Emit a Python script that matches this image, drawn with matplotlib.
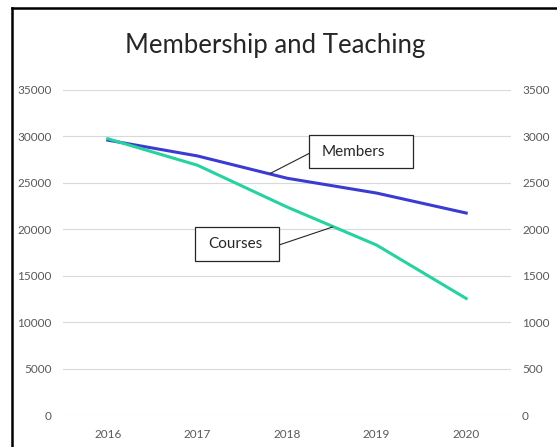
import matplotlib
matplotlib.use("Agg")
import matplotlib.pyplot as plt
from matplotlib.patches import Rectangle
from matplotlib.lines import Line2D

years = ["2016", "2017", "2018", "2019", "2020"]
members = [29600, 27900, 25500, 23900, 21750]
courses = [2975, 2690, 2240, 1830, 1255]
left_ticks = [0, 5000, 10000, 15000, 20000, 25000, 30000, 35000]
right_ticks = [0, 500, 1000, 1500, 2000, 2500, 3000, 3500]

W, H = 557, 447
fig = plt.figure(figsize=(W/100, H/100), dpi=100)
plt.rcParams['font.family'] = ['Lato', 'DejaVu Sans']

def fx(px): return px / W
def fy(py): return 1 - py / H

ax = fig.add_axes([fx(63), fy(415), fx(511) - fx(63), fy(90) - fy(415)])
x = list(range(len(years)))
ax.set_xlim(-0.5, len(years) - 0.5)
ax.set_ylim(0, 35000)
ax.set_yticks(left_ticks)
ax.set_yticklabels([str(t) for t in left_ticks])
ax.set_xticks(x)
ax.set_xticklabels(years)
ax.grid(axis='y', color='#d9d9d9', linewidth=0.8)
ax.set_axisbelow(True)
for s in ax.spines.values():
    s.set_visible(False)
ax.tick_params(axis='both', length=0, colors='#595959', labelsize=8.5)
ax.tick_params(axis='y', pad=8)
ax.tick_params(axis='x', pad=10)

ax2 = ax.twinx()
ax2.set_ylim(0, 3500)
ax2.set_yticks(right_ticks)
ax2.set_yticklabels([str(t) for t in right_ticks])
for s in ax2.spines.values():
    s.set_visible(False)
ax2.tick_params(axis='y', length=0, colors='#595959', labelsize=8.5, pad=8)

ax.plot(x, members, color='#3b3bd1', linewidth=2.2, zorder=3)
ax2.plot(x, courses, color='#25d2a0', linewidth=2.2, zorder=3)

# callout boxes (positions in figure pixels, origin top-left converted)
def callout(axis, label, anchor, box, text_x, line_end):
    x0, y0, x1, y1 = box
    axis.annotate("", xy=anchor, xycoords='data',
                  xytext=(line_end[0], H - line_end[1]), textcoords='figure pixels',
                  arrowprops=dict(arrowstyle='-', color='#262626', lw=0.8,
                                  shrinkA=0, shrinkB=0))
    fig.patches.append(Rectangle((fx(x0), fy(y1)), fx(x1) - fx(x0), fy(y0) - fy(y1),
                                 transform=fig.transFigure, fc='white', ec='#262626',
                                 lw=0.9, zorder=5))
    fig.text(fx(text_x), fy((y0 + y1) / 2), label, ha='left', va='center',
             fontsize=11, color='#262626', zorder=6)

callout(ax, "Members", (1.81, 26000), (309, 135, 413, 168), 322, (310, 153))
callout(ax2, "Courses", (2.51, 2025), (195, 227, 279, 261), 208, (279, 245))

fig.text(fx(275), fy(45), "Membership and Teaching", ha='center', va='center',
         fontsize=18.5, color='#262626')

fig.lines.append(Line2D([fx(12), 1.0], [fy(8), fy(8)], transform=fig.transFigure,
                        color='black', lw=1.8))
fig.lines.append(Line2D([fx(12), fx(12)], [fy(8), 0.0], transform=fig.transFigure,
                        color='black', lw=1.8))

fig.savefig("out.png", dpi=100)
